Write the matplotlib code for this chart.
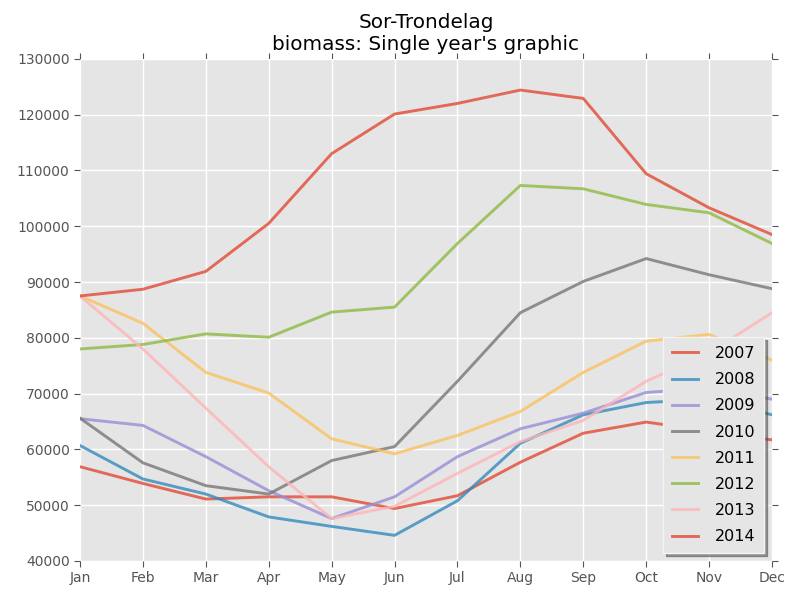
import matplotlib
matplotlib.use("Agg")
import matplotlib.pyplot as plt

months = ["Jan", "Feb", "Mar", "Apr", "May", "Jun", "Jul", "Aug", "Sep", "Oct", "Nov", "Dec"]
years = ["2007", "2008", "2009", "2010", "2011", "2012", "2013", "2014"]

y2007 = [56900, 53900, 51100, 51500, 51500, 49400, 51700, 57700, 62900, 64900, 63300, 61700]
y2008 = [60700, 54700, 52000, 47900, 46200, 44600, 50800, 61100, 66200, 68400, 69000, 66200]
y2009 = [65500, 64300, 58700, 52600, 47600, 51500, 58700, 63700, 66500, 70200, 71000, 69000]
y2010 = [65600, 57600, 53500, 52000, 58000, 60500, 72200, 84500, 90100, 94200, 91300, 88800]
y2011 = [87500, 82600, 73800, 70100, 61900, 59200, 62500, 66800, 73800, 79400, 80600, 76000]
y2012 = [78000, 78800, 80700, 80100, 84600, 85500, 96900, 107300, 106700, 103900, 102400, 96900]
y2013 = [87500, 78000, 67400, 56900, 47600, 49800, 55700, 61400, 65200, 72200, 77300, 84500]
y2014 = [87500, 88700, 91900, 100500, 113000, 120100, 122000, 124400, 122900, 109400, 103300, 98500]

series = [y2007, y2008, y2009, y2010, y2011, y2012, y2013, y2014]
colors = ['#E24A33', '#348ABD', '#988ED5', '#777777', '#FBC15E', '#8EBA42', '#FFB5B8', '#E24A33']

fig = plt.figure(figsize=(8, 6), dpi=100)
ax = fig.add_axes([0.1, 0.065, 0.865, 0.837])
ax.set_facecolor('#E5E5E5')
for s in ax.spines.values():
    s.set_visible(False)
ax.grid(True, color='white', linewidth=1.0)
ax.set_axisbelow(True)

x = list(range(len(months)))
for yr, vals, c in zip(years, series, colors):
    ax.plot(x, vals, color=c, linewidth=2.1, alpha=0.8, label=yr)

ax.set_xlim(0, 11)
ax.set_ylim(40000, 130000)
ax.set_xticks(x)
ax.set_xticklabels(months)
ax.set_yticks(range(40000, 130001, 10000))
ax.tick_params(axis='both', direction='out', colors='#555555', labelsize=10,
               length=4, top=True, right=True, labeltop=False, labelright=False)

ax.set_title("Sor-Trondelag\nbiomass: Single year's graphic", fontsize=14.4, color='black')

leg = ax.legend(loc='lower right', fontsize=11.5, shadow=True, fancybox=False,
                framealpha=1.0, borderpad=0.55, labelspacing=0.7,
                handlelength=1.6, handletextpad=1.05, borderaxespad=0.5)
leg.get_frame().set_facecolor('#E5E5E5')
leg.get_frame().set_edgecolor('#F4F4F4')

fig.savefig("out.png", dpi=100)
